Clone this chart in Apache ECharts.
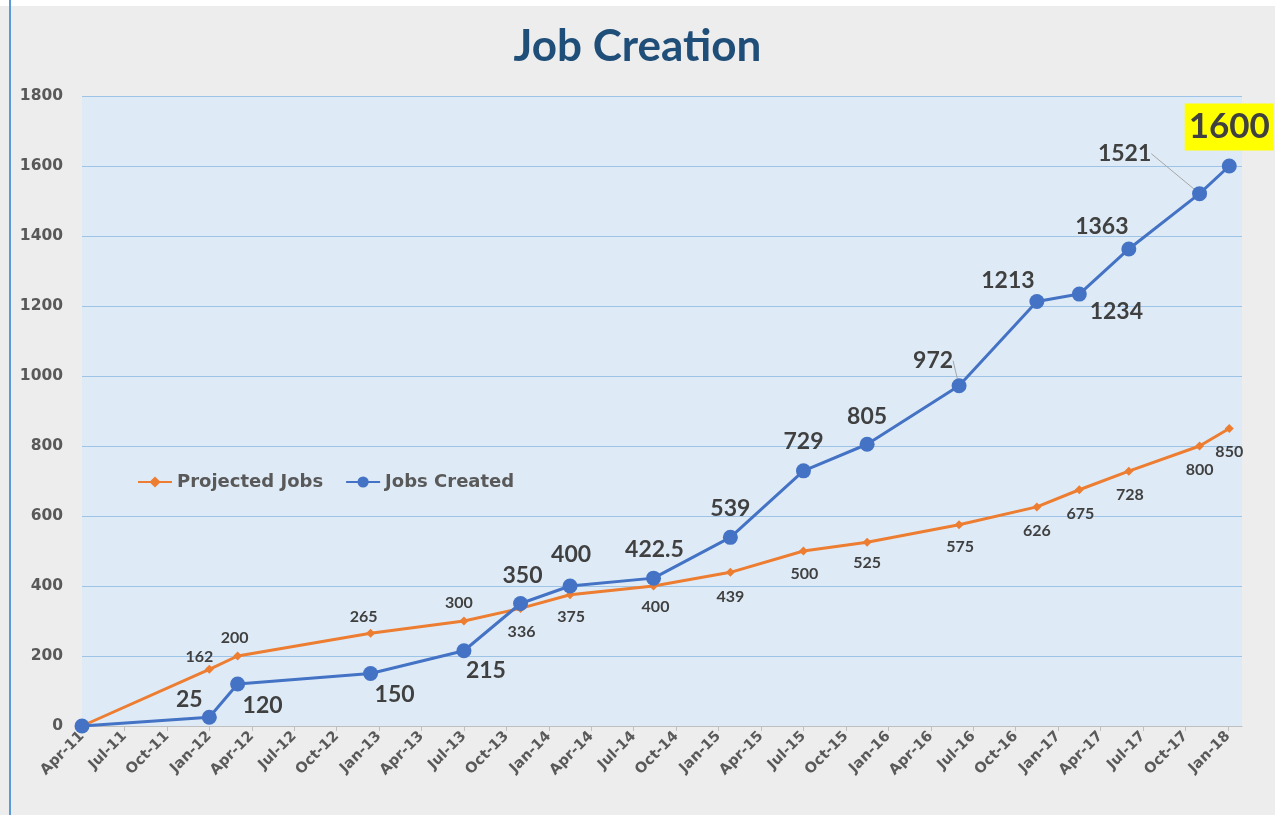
<!DOCTYPE html>
<html>
<head>
<meta charset="utf-8">
<script src="https://cdn.jsdelivr.net/npm/echarts@6/dist/echarts.min.js"></script>
<style>
html,body{margin:0;padding:0;background:#fff;}
#chart{width:1275px;height:815px;}
</style>
</head>
<body>
<div id="chart"></div>
<script>
// ---- data ----
const dates = ['2011-04-01','2012-01-01','2012-03-01','2012-12-13','2013-07-01','2013-11-01','2014-02-16','2014-08-13','2015-01-26','2015-07-01','2015-11-16','2016-06-01','2016-11-16','2017-02-16','2017-06-01','2017-11-01','2018-01-04'];
const projectedJobs = [0,162,200,265,300,336,375,400,439,500,525,575,626,675,728,800,850];
const jobsCreated = [0,25,120,150,215,350,400,422.5,539,729,805,972,1213,1234,1363,1521,1600];
const tickLabels = ['Apr-11','Jul-11','Oct-11','Jan-12','Apr-12','Jul-12','Oct-12','Jan-13','Apr-13','Jul-13','Oct-13','Jan-14','Apr-14','Jul-14','Oct-14','Jan-15','Apr-15','Jul-15','Oct-15','Jan-16','Apr-16','Jul-16','Oct-16','Jan-17','Apr-17','Jul-17','Oct-17','Jan-18'];
const yTicks = [0,200,400,600,800,1000,1200,1400,1600,1800];

// ---- label placement (styles) ----
const blueOffsets = [[0,0],[-20,-18],[25,22],[24,21],[22,20],[2,-28],[1,-31],[1,-29],[0,-29],[0,-29],[0,-28],[-26,-25],[-29,-21],[37,17],[-27,-22],[-75,-40],[0,-39]];
const orangeOffsets = [[0,0],[-10,-12],[-3,-18],[-7,-16],[-5,-18],[1,23],[1,22],[2,21],[0,24],[1,23],[0,21],[1,22],[0,24],[1,24],[1,24],[0,24],[0,23]];

// month index from Apr-2011
function monthIndex(s){
  const [y,m,d] = s.split('-').map(Number);
  return (y-2011)*12 + (m-4) + (d-1)/30;
}
const xs = dates.map(monthIndex);
const tickValues = tickLabels.map((t,i)=>i*3);

const FONT_DV = 'DejaVu Sans';
const FONT_L = 'Lato';

const orangeData = projectedJobs.map((v,i)=>{
  const item = {value:[xs[i], v]};
  if(i===0) item.label = {show:false};
  return item;
});
const blueData = jobsCreated.map((v,i)=>{
  const item = {value:[xs[i], v]};
  if(i===0) item.label = {show:false};
  if(i===jobsCreated.length-1){
    item.label = {fontSize:35, backgroundColor:'#FFFF00', padding:[7,4,5,4]};
  }
  if(v===972 || v===1521){
    item.labelLine = {show:true};
  }
  return item;
});

const chart = echarts.init(document.getElementById('chart'));
chart.setOption({
  backgroundColor:'#EDEDED',
  animation:false,
  title:{
    text:'Job Creation', left:'center', top:20,
    textStyle:{fontFamily:FONT_L, fontWeight:'bold', fontSize:44, color:'#1F4E79'}
  },
  graphic:[
    {type:'rect', shape:{x:0,y:0,width:1275,height:6}, style:{fill:'#FFFFFF'}, z:100},
    {type:'rect', shape:{x:9,y:0,width:2,height:815}, style:{fill:'#5B9BD5'}, z:100}
  ],
  legend:{
    left:132, top:468, itemWidth:34, itemHeight:14, itemGap:22,
    textStyle:{fontFamily:FONT_DV, fontWeight:'bold', fontSize:18, color:'#595959'},
    data:['Projected Jobs','Jobs Created']
  },
  grid:{left:82, right:33, top:96, bottom:89, show:true, backgroundColor:'#DEEBF7', borderWidth:0},
  xAxis:{
    type:'value', min:0, max:82, interval:3,
    axisLine:{show:true, lineStyle:{color:'#BFBFBF', width:1}},
    axisTick:{show:true, length:5, lineStyle:{color:'#BFBFBF'}, customValues:tickValues},
    splitLine:{show:false},
    axisLabel:{
      customValues:tickValues,
      rotate:45, margin:8,
      fontFamily:FONT_DV, fontWeight:'bold', fontSize:14.5, color:'#595959',
      formatter:function(v){ const k=Math.round(v/3); return (Math.abs(v-k*3)<1e-6 && tickLabels[k]) ? tickLabels[k] : ''; }
    }
  },
  yAxis:{
    type:'value', min:yTicks[0], max:yTicks[yTicks.length-1], interval:200,
    axisLine:{show:false}, axisTick:{show:false},
    splitLine:{show:true, lineStyle:{color:'#9DC3E6', width:1}},
    axisLabel:{fontFamily:FONT_DV, fontWeight:'bold', fontSize:15.5, color:'#595959', margin:19,
      formatter:function(v){return String(v);}}
  },
  series:[
    {
      name:'Projected Jobs', type:'line', data:orangeData,
      symbol:'diamond', symbolSize:9,
      lineStyle:{color:'#ED7D31', width:3},
      itemStyle:{color:'#ED7D31'},
      label:{show:true, position:'inside', fontFamily:FONT_L, fontWeight:'bold', fontSize:16, color:'#404040',
        formatter:function(p){return String(p.value[1]);}},
      labelLayout:function(p){ const o=orangeOffsets[p.dataIndex]; return {dx:o[0], dy:o[1]}; },
      labelLine:{show:false},
      z:2
    },
    {
      name:'Jobs Created', type:'line', data:blueData,
      symbol:'circle', symbolSize:15,
      lineStyle:{color:'#4472C4', width:3},
      itemStyle:{color:'#4472C4'},
      label:{show:true, position:'inside', fontFamily:FONT_L, fontWeight:'bold', fontSize:23, color:'#404040',
        formatter:function(p){return String(p.value[1]);}},
      labelLayout:function(p){ const o=blueOffsets[p.dataIndex]; return {dx:o[0], dy:o[1]}; },
      labelLine:{show:false, lineStyle:{color:'#A6A6A6', width:1}},
      z:3
    }
  ]
});
</script>
</body>
</html>
